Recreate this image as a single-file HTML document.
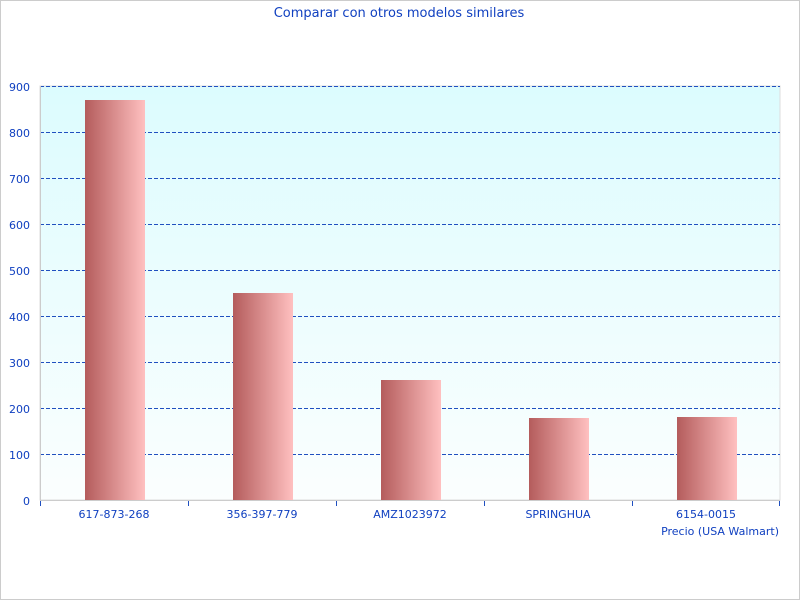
<!DOCTYPE html><html><head><style>body{margin:0;background:#fff}</style></head><body>
<svg width="800" height="600" xmlns="http://www.w3.org/2000/svg" font-family="'DejaVu Sans','Liberation Sans',sans-serif">
<defs>
<linearGradient id="bg" x1="0" y1="0" x2="0" y2="1"><stop offset="0" stop-color="#dcfcfe"/><stop offset="1" stop-color="#fbfefe"/></linearGradient>
<linearGradient id="bar" x1="0" y1="0" x2="1" y2="0"><stop offset="0" stop-color="#b45c5c"/><stop offset="1" stop-color="#ffc0c0"/></linearGradient>
</defs>
<rect x="0.5" y="0.5" width="799" height="599" fill="#fff" stroke="#ccc"/>
<text x="399" y="17" font-size="13" fill="#1040c0" text-anchor="middle">Comparar con otros modelos similares</text>
<rect x="40" y="86" width="740" height="414" fill="url(#bg)" stroke="#ddd"/>
<g stroke="#2050c0" stroke-dasharray="4,2" stroke-width="1">
<line x1="40" x2="780" y1="86.5" y2="86.5"/><line x1="40" x2="780" y1="132.5" y2="132.5"/><line x1="40" x2="780" y1="178.5" y2="178.5"/><line x1="40" x2="780" y1="224.5" y2="224.5"/><line x1="40" x2="780" y1="270.5" y2="270.5"/><line x1="40" x2="780" y1="316.5" y2="316.5"/><line x1="40" x2="780" y1="362.5" y2="362.5"/><line x1="40" x2="780" y1="408.5" y2="408.5"/><line x1="40" x2="780" y1="454.5" y2="454.5"/>
</g>
<line x1="40.5" y1="86" x2="40.5" y2="500" stroke="#ccc"/>
<line x1="40" y1="500.5" x2="780" y2="500.5" stroke="#ccc"/>
<g fill="url(#bar)">
<rect x="85" y="100" width="60" height="400"/>
<rect x="233" y="293" width="60" height="207"/>
<rect x="381" y="380" width="60" height="120"/>
<rect x="529" y="418" width="60" height="82"/>
<rect x="677" y="417" width="60" height="83"/>
</g>
<g stroke="#2050c0"><line x1="40.5" x2="40.5" y1="501" y2="506"/><line x1="188.5" x2="188.5" y1="501" y2="506"/><line x1="336.5" x2="336.5" y1="501" y2="506"/><line x1="484.5" x2="484.5" y1="501" y2="506"/><line x1="632.5" x2="632.5" y1="501" y2="506"/><line x1="779.5" x2="779.5" y1="501" y2="506"/></g>
<g font-size="11" fill="#1040c0" text-anchor="end">
<text x="30" y="91">900</text><text x="30" y="137">800</text><text x="30" y="183">700</text><text x="30" y="229">600</text><text x="30" y="275">500</text><text x="30" y="321">400</text><text x="30" y="367">300</text><text x="30" y="413">200</text><text x="30" y="459">100</text><text x="30" y="505">0</text>
</g>
<g font-size="11" fill="#1040c0" text-anchor="middle">
<text x="114" y="518">617-873-268</text><text x="262" y="518">356-397-779</text><text x="410" y="518">AMZ1023972</text><text x="558" y="518">SPRINGHUA</text><text x="706" y="518">6154-0015</text>
</g>
<text x="779" y="535" font-size="11" fill="#1040c0" text-anchor="end">Precio (USA Walmart)</text>
</svg>
</body></html>
